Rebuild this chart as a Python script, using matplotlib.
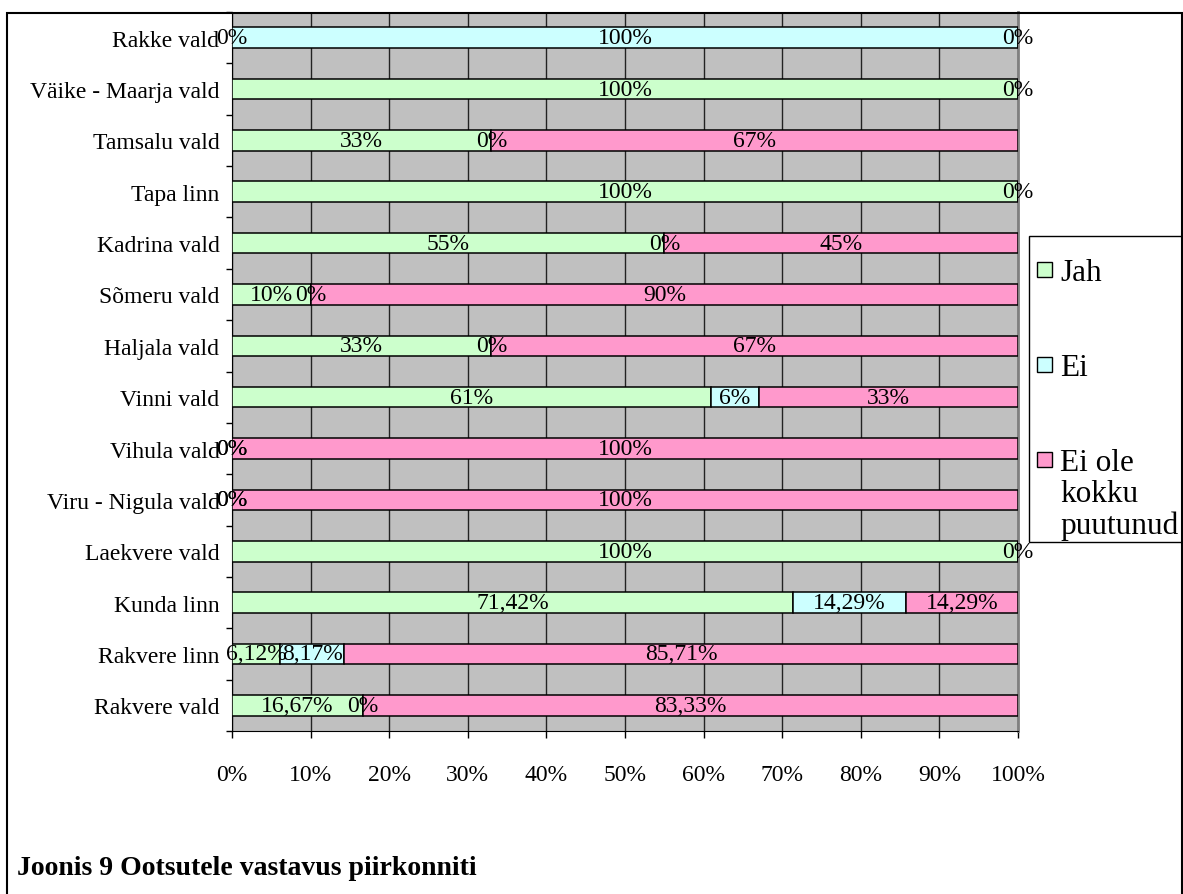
import numpy as np
import matplotlib.pyplot as plt
from matplotlib.patches import Rectangle

plt.rcParams['font.family'] = ['Liberation Serif', 'DejaVu Serif']

# rows from bottom to top, as the chart draws them
categories = ["Rakvere vald", "Rakvere linn", "Kunda linn", "Laekvere vald",
              "Viru - Nigula vald", "Vihula vald", "Vinni vald", "Haljala vald",
              "Sõmeru vald", "Kadrina vald", "Tapa linn", "Tamsalu vald",
              "Väike - Maarja vald", "Rakke vald"]
jah = [16.67, 6.12, 71.42, 100, 0, 0, 61, 33, 10, 55, 100, 33, 100, 0]
ei = [0, 8.17, 14.29, 0, 0, 0, 6, 0, 0, 0, 0, 0, 0, 100]
ei_ole = [83.33, 85.71, 14.29, None, 100, 100, 33, 67, 90, 45, None, 67, None, 0]

series_names = ["Jah", "Ei", "Ei ole\nkokku\npuutunud"]
series_colors = ["#CCFFCC", "#CCFFFF", "#FF99CC"]
x_ticks = [0, 10, 20, 30, 40, 50, 60, 70, 80, 90, 100]

W, H = 1183, 895
fig = plt.figure(figsize=(W / 100, H / 100), dpi=100)
ax = fig.add_axes([232 / W, 1 - 732 / H, (1018 - 232) / W, (732 - 13) / H])
ax.set_facecolor("#C0C0C0")

y = np.arange(len(categories))
left = np.zeros(len(categories))
for vals, color in zip([jah, ei, ei_ole], series_colors):
    v = np.array([0 if a is None else a for a in vals], dtype=float)
    ax.barh(y, v, left=left, height=0.4, color=color, edgecolor="black",
            linewidth=1.1, zorder=3)
    for i, a in enumerate(vals):
        if a is None:
            continue
        txt = f"{a:g}".replace(".", ",") + "%"
        ax.text(left[i] + a / 2, y[i], txt, ha="center", va="center",
                fontsize=17, zorder=4)
    left += v

ax.set_xlim(0, 100)
ax.set_ylim(-0.5, len(categories) - 0.5)
ax.set_xticks(x_ticks)
ax.set_xticklabels([f"{t}%" for t in x_ticks], fontsize=17)
ax.set_yticks(y)
ax.set_yticklabels(categories, fontsize=17)
ax.set_yticks(np.arange(-0.5, len(categories), 1), minor=True)
ax.tick_params(axis="y", which="major", length=0, pad=9)
ax.tick_params(axis="y", which="minor", length=4, width=1, direction="out")
ax.tick_params(axis="x", length=5, width=1, direction="out", pad=19)
ax.grid(axis="x", color="#222222", linewidth=1)
ax.set_axisbelow(True)
ax.spines["top"].set_visible(False)
ax.spines["right"].set_color("#808080")
ax.spines["right"].set_linewidth(2)

# legend box
fig.patches.append(Rectangle((1029 / W, 1 - 543 / H), (1182 - 1029) / W, (543 - 237) / H,
                             transform=fig.transFigure, fill=False, edgecolor="black",
                             linewidth=1))
for k, (name, color) in enumerate(zip(series_names, series_colors)):
    yc = 270 + k * 95
    fig.patches.append(Rectangle((1037 / W, 1 - (yc + 8) / H), 15 / W, 15 / H,
                                 transform=fig.transFigure, facecolor=color,
                                 edgecolor="black", linewidth=1))
    fig.text(1060 / W, 1 - (yc - 11) / H, name, fontsize=22.5, ha="left",
             va="top", linespacing=1.1, transform=fig.transFigure)

# outer frame
fig.patches.append(Rectangle((7 / W, -0.05), (1182 - 7) / W, 1.05 - 14 / H,
                             transform=fig.transFigure, fill=False,
                             edgecolor="black", linewidth=1.5))

fig.text(17 / W, 1 - 875 / H, "Joonis 9 Ootsutele vastavus piirkonniti",
         fontsize=20, fontweight="bold", va="baseline")

fig.savefig("out.png", dpi=100)
